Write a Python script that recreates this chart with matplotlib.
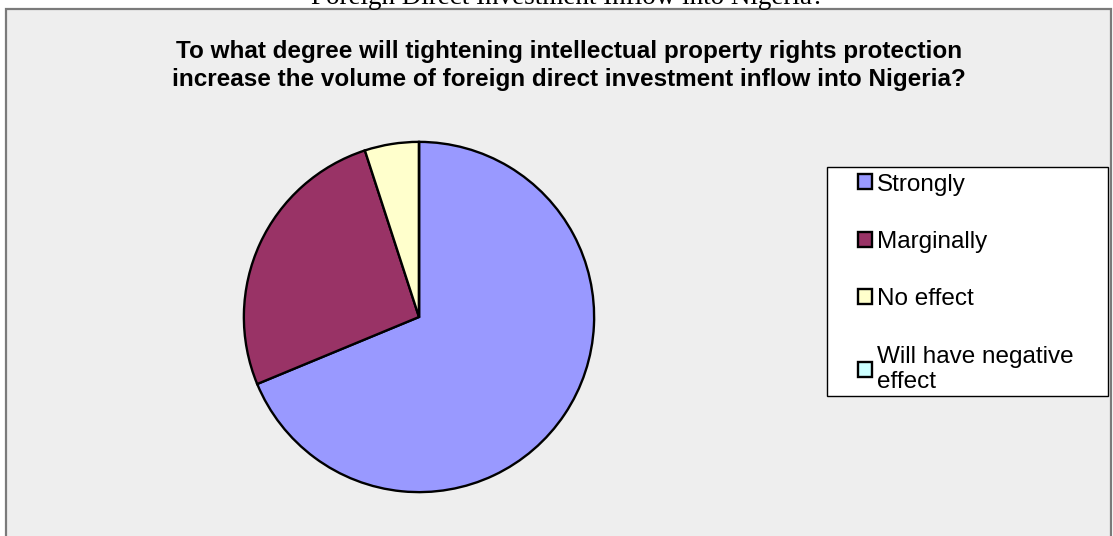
import matplotlib
matplotlib.use("Agg")
import matplotlib.pyplot as plt
from matplotlib.patches import Rectangle

# Data
categories = ["Strongly", "Marginally", "No effect", "Will have negative\neffect"]
values = [55, 21, 4, 0]
colors = ["#9999FF", "#993366", "#FFFFCC", "#CCFFFF"]
title = ("To what degree will tightening intellectual property rights protection\n"
         "increase the volume of foreign direct investment inflow into Nigeria?")
top_caption = "Foreign Direct Investment Inflow into Nigeria?"

W, H = 1113, 536
DPI = 100
fig = plt.figure(figsize=(W / DPI, H / DPI), dpi=DPI, facecolor="white")

def fx(px):
    return px / W

def fy(py):
    return 1 - py / H

# chart area frame
fig.patches.append(Rectangle((fx(6), fy(560)), fx(1111) - fx(6), fy(8.5) - fy(560),
                             transform=fig.transFigure, facecolor="#EEEEEE",
                             edgecolor="#7A7A7A", linewidth=1.6, zorder=-5))

# cut-off caption above chart
fig.text(fx(568), fy(4.5), top_caption, ha="center", va="baseline",
         fontsize=19.5, family="Liberation Serif", color="black", zorder=-4)

# title
fig.text(fx(569), fy(65.5), title, ha="center", va="center", fontsize=17.5,
         fontweight="bold", family="Liberation Sans", linespacing=1.3)

# pie
cx, cy, r = 419, 317, 176
ax = fig.add_axes([fx(cx - r), fy(cy + r), fx(2 * r), fy(cy - r) - fy(cy + r)])
ax.set_zorder(2)
wedges, _ = ax.pie(values, colors=colors, startangle=90, counterclock=False,
                   radius=1, labels=None,
                   wedgeprops=dict(edgecolor="black", linewidth=1.7))
ax.set_xlim(-1.005, 1.005)
ax.set_ylim(-1.005, 1.005)
ax.axis("off")

# legend frame
fig.patches.append(Rectangle((fx(826.5), fy(396)), fx(1108) - fx(826.5), fy(167) - fy(396),
                             transform=fig.transFigure, facecolor="white",
                             edgecolor="black", linewidth=1.0, zorder=1))

leg = fig.legend(wedges, categories, loc="upper left",
                 bbox_to_anchor=(fx(858), fy(173.5)), frameon=False,
                 prop=dict(family="Liberation Sans", size=17.5),
                 handlelength=0.58, handleheight=0.58, handletextpad=0.2,
                 labelspacing=1.46, borderpad=0, borderaxespad=0)
leg.set_zorder(3)
for t in leg.get_texts():
    t.set_linespacing(1.2)

fig.savefig("out.png", dpi=DPI, facecolor="white")
